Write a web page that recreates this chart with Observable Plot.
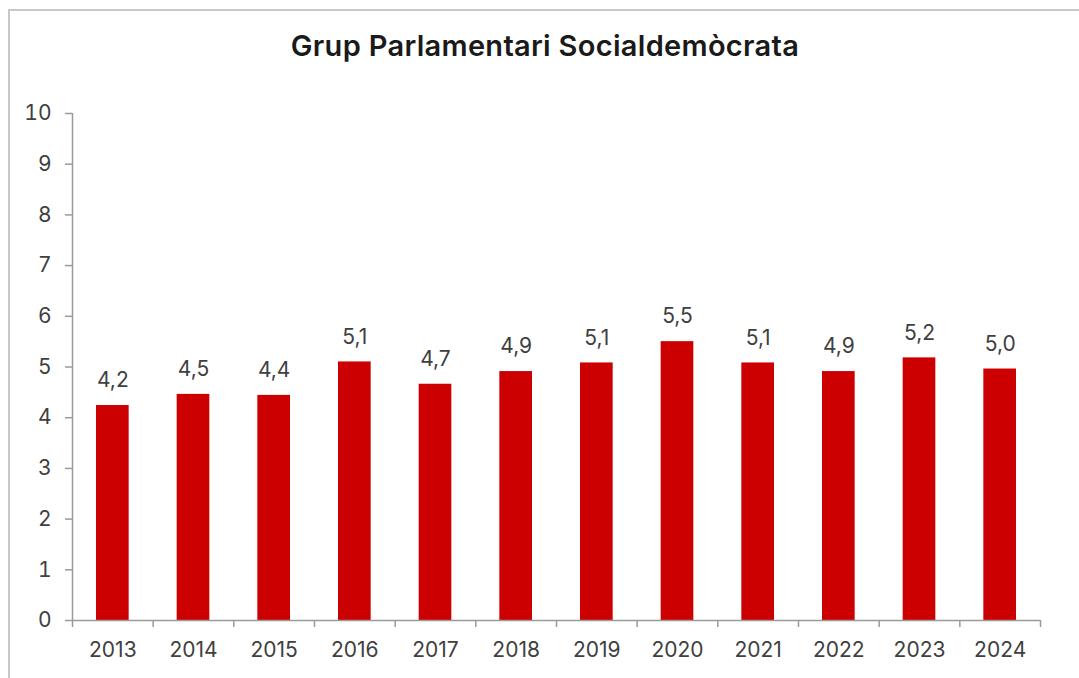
<!DOCTYPE html>
<html>
<head>
<meta charset="utf-8">
<script src="https://cdn.jsdelivr.net/npm/d3@7"></script>
<script src="https://cdn.jsdelivr.net/npm/@observablehq/plot@0.6"></script>
<style>
  html, body { margin: 0; padding: 0; background: #fff; }
  body { width: 1079px; height: 678px; overflow: hidden; position: relative; font-family: Inter, sans-serif; }
  #frame { position: absolute; left: 8px; top: 9px; width: 1200px; height: 800px; border: 2px solid #c8c8c8; box-sizing: border-box; }
  #title { position: absolute; left: 0; top: 29px; width: 1090px; text-align: center; font-size: 29px; font-weight: 600; color: #1a1a1a; line-height: 34px; letter-spacing: 0.3px; }
  #chart { position: absolute; left: 0; top: 80px; }
</style>
</head>
<body>
<div id="frame"></div>
<div id="title">Grup Parlamentari Socialdemòcrata</div>
<div id="chart"></div>
<script>
const years = ["2013", "2014", "2015", "2016", "2017", "2018", "2019", "2020", "2021", "2022", "2023", "2024"];
const values = [4.24, 4.46, 4.44, 5.10, 4.66, 4.91, 5.08, 5.50, 5.08, 4.91, 5.18, 4.96];
const yTicks = [0, 1, 2, 3, 4, 5, 6, 7, 8, 9, 10];

const data = years.map((year, i) => ({year, i, value: values[i]}));
const fmt = v => d3.format(".1f")(v).replace(".", ",");
const boundaries = d3.range(0, years.length + 1);

const chart = Plot.plot({
  width: 1079,
  height: 590,
  marginTop: 33,
  marginBottom: 50,
  marginLeft: 72,
  marginRight: 39,
  x: {domain: [0, years.length], axis: null, label: null},
  y: {domain: [0, 10], axis: null, label: null},
  style: {fontFamily: "Inter, sans-serif", fontSize: "21px", color: "#404040", background: "transparent", overflow: "visible"},
  marks: [
    Plot.rectY(data, {x1: "i", x2: d => d.i + 1, y: "value", fill: "#cc0000", insetLeft: 24, insetRight: 24}),
    Plot.ruleX([0], {stroke: "#9a9a9a", strokeWidth: 1.5}),
    Plot.ruleY([0], {stroke: "#9a9a9a", strokeWidth: 1.5}),
    Plot.axisY({ticks: yTicks, tickSize: 7, tickPadding: 14, tickFormat: d => String(d), stroke: "#9a9a9a", strokeWidth: 1.5, fontSize: 21, label: null}),
    Plot.axisX({ticks: boundaries, tickSize: 7, tickFormat: () => "", stroke: "#9a9a9a", strokeWidth: 1.5, label: null}),
    Plot.text(data, {x: d => d.i + 0.5, y: "value", text: d => fmt(d.value), dy: -25, fill: "#404040", fontSize: 21}),
    Plot.text(data, {x: d => d.i + 0.5, y: () => 0, text: "year", dy: 30, fill: "#404040", fontSize: 21})
  ]
});
document.getElementById("chart").appendChild(chart);
</script>
</body>
</html>
